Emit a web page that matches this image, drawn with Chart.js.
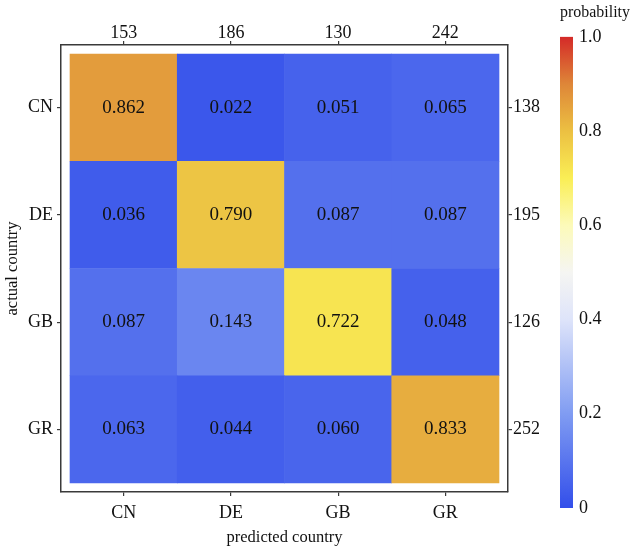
<!DOCTYPE html>
<html>
<head>
<meta charset="utf-8">
<script src="https://cdn.jsdelivr.net/npm/chart.js"></script>
<style>
    html, body { margin: 0; padding: 0; background: #fff; }
    #wrap { position: relative; width: 630px; height: 546px; }
    #main { position: absolute; left: 0; top: 0; width: 540px; height: 546px; }
    #bar { position: absolute; left: 545px; top: 0; width: 85px; height: 546px; }
</style>
</head>
<body>
<div id="wrap">
    <div id="main"><canvas id="cMain"></canvas></div>
    <div id="bar"><canvas id="cBar"></canvas></div>
</div>
<script>
// categories
const predictedCountries = ['CN', 'DE', 'GB', 'GR'];
const actualCountries = ['CN', 'DE', 'GB', 'GR'];
// sample counts shown on top / right axes
const predictedTotals = [153, 186, 130, 242];
const actualTotals = [138, 195, 126, 252];
// rows of the matrix (actual country), columns = predicted country
const rowCN = [0.862, 0.022, 0.051, 0.065];
const rowDE = [0.036, 0.790, 0.087, 0.087];
const rowGB = [0.087, 0.143, 0.722, 0.048];
const rowGR = [0.063, 0.044, 0.060, 0.833];
const colorbarTicks = [0, 0.2, 0.4, 0.6, 0.8, 1.0];

const rows = [rowCN, rowDE, rowGB, rowGR];

// blue -> white -> yellow -> red
const STOPS = [
    [0.0, [50, 78, 234]],
    [0.2, [128, 156, 242]],
    [0.4, [222, 228, 250]],
    [0.5, [245, 245, 242]],
    [0.6, [252, 250, 185]],
    [0.7, [250, 238, 85]],
    [0.8, [236, 192, 66]],
    [0.9, [222, 134, 56]],
    [1.0, [212, 42, 40]],
];

function colorFor(v) {
    for (let i = 1; i < STOPS.length; i++) {
        if (v <= STOPS[i][0]) {
            const [a, ca] = STOPS[i - 1];
            const [b, cb] = STOPS[i];
            const t = (v - a) / (b - a);
            const c = ca.map((x, k) => Math.round(x + (cb[k] - x) * t));
            return `rgb(${c[0]},${c[1]},${c[2]})`;
        }
    }
    const c = STOPS[STOPS.length - 1][1];
    return `rgb(${c[0]},${c[1]},${c[2]})`;
}

Chart.defaults.font.family = "'Liberation Serif', 'DejaVu Serif', serif";
Chart.defaults.color = '#111';

const FRAME = '#3a3a3a';
const PAD = 0.084; // gap between frame and cells, in cell units
const cells = [];
const cellColors = [];
rows.forEach((row, r) => row.forEach((v, c) => {
    cells.push({ x: c, y: [r - 0.5, r + 0.5], v });
    cellColors.push(colorFor(v));
}));

const fixTicks = (s) => { s.ticks = [0, 1, 2, 3].map(v => ({ value: v })); };
const tickFont = { size: 18 };

function axis(position, labels, extra) {
    return Object.assign({
        type: 'linear',
        position,
        min: -0.5 - PAD,
        max: 3.5 + PAD,
        offset: false,
        afterBuildTicks: fixTicks,
        grid: { offset: false, drawOnChartArea: false, drawTicks: true, tickLength: 4, color: FRAME, lineWidth: 1.2 },
        border: { display: true, color: FRAME, width: 1.5 },
        ticks: { font: tickFont, color: '#111', callback: (v) => labels[v], maxRotation: 0, autoSkip: false },
    }, extra);
}

const cellText = {
    id: 'cellText',
    afterDatasetsDraw(chart) {
        const ctx = chart.ctx;
        const meta = chart.getDatasetMeta(0);
        ctx.save();
        ctx.font = "19px 'Liberation Serif'";
        ctx.fillStyle = '#111';
        ctx.textAlign = 'center';
        ctx.textBaseline = 'middle';
        meta.data.forEach((el, i) => {
            const p = el.getCenterPoint();
            ctx.fillText(cells[i].v.toFixed(3), p.x, p.y);
        });
        ctx.restore();
    }
};

new Chart(document.getElementById('cMain'), {
    type: 'bar',
    data: {
        datasets: [{
            data: cells,
            backgroundColor: cellColors,
            borderWidth: 0,
            barPercentage: 1,
            categoryPercentage: 1,
        }]
    },
    options: {
        responsive: true,
        maintainAspectRatio: false,
        animation: false,
        layout: { padding: 0 },
        plugins: { legend: { display: false }, tooltip: { enabled: false } },
        scales: {
            x: axis('bottom', predictedCountries, {
                ticks: { font: tickFont, color: '#111', padding: 6, callback: (v) => predictedCountries[v], maxRotation: 0, autoSkip: false },
                title: { display: true, text: 'predicted country', font: { size: 16.5 }, color: '#111', padding: { top: 0, bottom: -2 } },
                afterFit: (s) => { s.height = 54; },
            }),
            x2: axis('top', predictedTotals, {
                ticks: { font: tickFont, color: '#111', padding: -3, callback: (v) => predictedTotals[v], maxRotation: 0, autoSkip: false },
                afterFit: (s) => { s.height = 45; },
            }),
            y: axis('left', actualCountries, {
                reverse: true,
                ticks: { font: tickFont, color: '#111', padding: 4, callback: (v) => actualCountries[v], autoSkip: false },
                title: { display: true, text: 'actual country', font: { size: 16.5 }, color: '#111', padding: { top: 3, bottom: 0 } },
                afterFit: (s) => { s.width = 61; },
            }),
            y2: axis('right', actualTotals, {
                reverse: true,
                ticks: { font: tickFont, color: '#111', padding: 1, callback: (v) => actualTotals[v], autoSkip: false },
                afterFit: (s) => { s.width = 32; },
            }),
        }
    },
    plugins: [cellText]
});

// colour bar
new Chart(document.getElementById('cBar'), {
    type: 'bar',
    data: {
        labels: [''],
        datasets: [{
            data: [[0, 1]],
            borderWidth: 0,
            barPercentage: 1,
            categoryPercentage: 1,
            backgroundColor: (c) => {
                const area = c.chart.chartArea;
                if (!area) return '#888';
                const g = c.chart.ctx.createLinearGradient(0, area.bottom, 0, area.top);
                STOPS.forEach(([s]) => g.addColorStop(s, colorFor(s)));
                return g;
            },
        }]
    },
    options: {
        responsive: true,
        maintainAspectRatio: false,
        animation: false,
        layout: { padding: { left: 15, bottom: 38 } },
        plugins: {
            legend: { display: false },
            tooltip: { enabled: false },
            title: { display: true, text: 'probability', font: { size: 16.5, weight: 'normal' }, color: '#111', padding: { top: 3, bottom: 14 } },
        },
        scales: {
            x: { display: false },
            y: {
                position: 'right',
                min: 0,
                max: 1,
                afterBuildTicks: (s) => { s.ticks = colorbarTicks.map(v => ({ value: v })); },
                grid: { display: false, drawTicks: false },
                border: { display: false },
                ticks: { font: tickFont, color: '#111', padding: 6, callback: (v) => v === 0 ? '0' : v.toFixed(1) },
                afterFit: (s) => { s.width = 57; },
            }
        }
    }
});
</script>
</body>
</html>
